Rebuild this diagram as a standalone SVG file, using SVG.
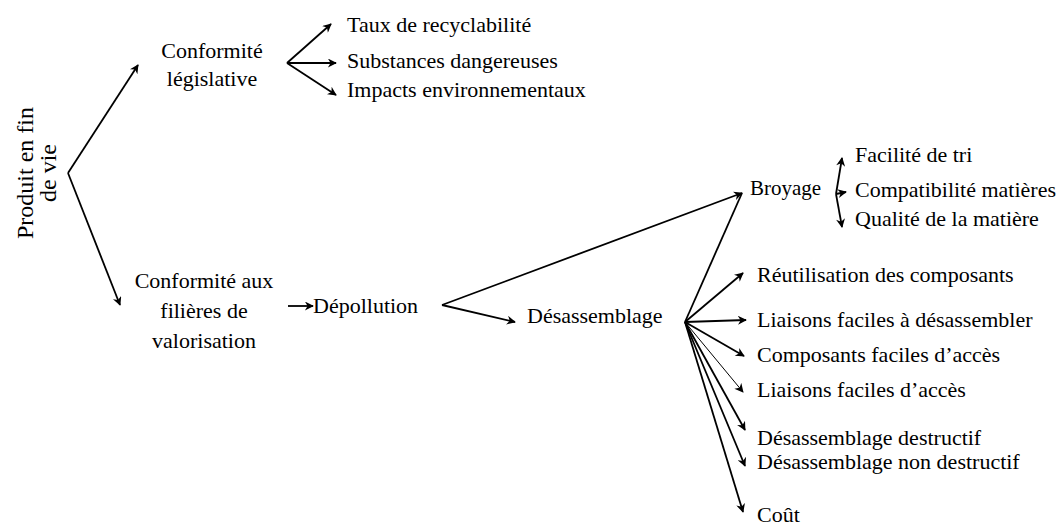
<svg xmlns="http://www.w3.org/2000/svg" width="1058" height="526" viewBox="0 0 1058 526">
  <style>
    .t { font-family: "Liberation Serif", "Times New Roman", serif; font-size: 22px; fill: #000; }
    .m { text-anchor: middle; }
    .c { stroke: #000; stroke-width: 1.8; fill: none; }
    .thin { stroke-width: 1; }
  </style>
  <defs>
    <marker id="ah" viewBox="0 0 10 10" refX="9" refY="5" markerWidth="10" markerHeight="9" orient="auto" markerUnits="userSpaceOnUse">
      <path d="M0,0 L10,5 L0,10 L3,5 z" fill="#000"/>
    </marker>
  </defs>
  <rect width="1058" height="526" fill="#fff"/>

  <g id="connectors">
    <line class="c" x1="68" y1="173" x2="138" y2="65" marker-end="url(#ah)"/>
    <line class="c" x1="68" y1="173" x2="120" y2="305" marker-end="url(#ah)"/>
    <line class="c" x1="287" y1="63" x2="331" y2="24" marker-end="url(#ah)"/>
    <line class="c" x1="287" y1="63" x2="336" y2="63" marker-end="url(#ah)"/>
    <line class="c" x1="287" y1="63" x2="336" y2="95" marker-end="url(#ah)"/>
    <line class="c" x1="288" y1="306" x2="313" y2="306" marker-end="url(#ah)"/>
    <line class="c" x1="442" y1="305" x2="742" y2="193" marker-end="url(#ah)"/>
    <line class="c" x1="442" y1="305" x2="515" y2="322" marker-end="url(#ah)"/>
    <line class="c" x1="685" y1="322" x2="742" y2="193"/>
    <line class="c" x1="836" y1="194" x2="842" y2="158" marker-end="url(#ah)"/>
    <line class="c" x1="836" y1="194" x2="846" y2="192" marker-end="url(#ah)"/>
    <line class="c" x1="836" y1="194" x2="842" y2="227" marker-end="url(#ah)"/>
    <line class="c" x1="685" y1="322" x2="743" y2="273" marker-end="url(#ah)"/>
    <line class="c" x1="685" y1="322" x2="746" y2="320" marker-end="url(#ah)"/>
    <line class="c" x1="685" y1="322" x2="744" y2="356" marker-end="url(#ah)"/>
    <line class="c thin" x1="685" y1="322" x2="743" y2="392" marker-end="url(#ah)"/>
    <line class="c" x1="685" y1="322" x2="745" y2="430" marker-end="url(#ah)"/>
    <line class="c" x1="685" y1="322" x2="745" y2="466" marker-end="url(#ah)"/>
    <line class="c" x1="685" y1="322" x2="743" y2="512" marker-end="url(#ah)"/>
  </g>

  <g id="produit">
    <text class="t m" transform="translate(33,173) rotate(-90)" style="font-size:24px">Produit en fin</text>
    <text class="t m" transform="translate(56,173) rotate(-90)" style="font-size:24px">de vie</text>
  </g>
  <g id="conformite-legislative">
    <text class="t m" x="212" y="58">Conformité</text>
    <text class="t m" x="212" y="86">législative</text>
  </g>
  <g id="taux"><text class="t" x="347" y="32">Taux de recyclabilité</text></g>
  <g id="substances"><text class="t" x="347" y="68">Substances dangereuses</text></g>
  <g id="impacts"><text class="t" x="347" y="97">Impacts environnementaux</text></g>
  <g id="conformite-filieres">
    <text class="t m" x="204" y="288">Conformité aux</text>
    <text class="t m" x="204" y="318">filières de</text>
    <text class="t m" x="204" y="348">valorisation</text>
  </g>
  <g id="depollution"><text class="t" x="313" y="313">Dépollution</text></g>
  <g id="desassemblage"><text class="t" x="527" y="323">Désassemblage</text></g>
  <g id="broyage"><text class="t" x="750" y="195" style="font-size:21px">Broyage</text></g>
  <g id="facilite-tri"><text class="t" x="855" y="162">Facilité de tri</text></g>
  <g id="compatibilite"><text class="t" x="855" y="197">Compatibilité matières</text></g>
  <g id="qualite"><text class="t" x="855" y="226">Qualité de la matière</text></g>
  <g id="reutilisation"><text class="t" x="757" y="282">Réutilisation des composants</text></g>
  <g id="liaisons-desassembler"><text class="t" x="757" y="327">Liaisons faciles à désassembler</text></g>
  <g id="composants-acces"><text class="t" x="757" y="362">Composants faciles d’accès</text></g>
  <g id="liaisons-acces"><text class="t" x="757" y="397">Liaisons faciles d’accès</text></g>
  <g id="des-destructif"><text class="t" x="757" y="445">Désassemblage destructif</text></g>
  <g id="des-non-destructif"><text class="t" x="757" y="469">Désassemblage non destructif</text></g>
  <g id="cout"><text class="t" x="757" y="522">Coût</text></g>
</svg>
